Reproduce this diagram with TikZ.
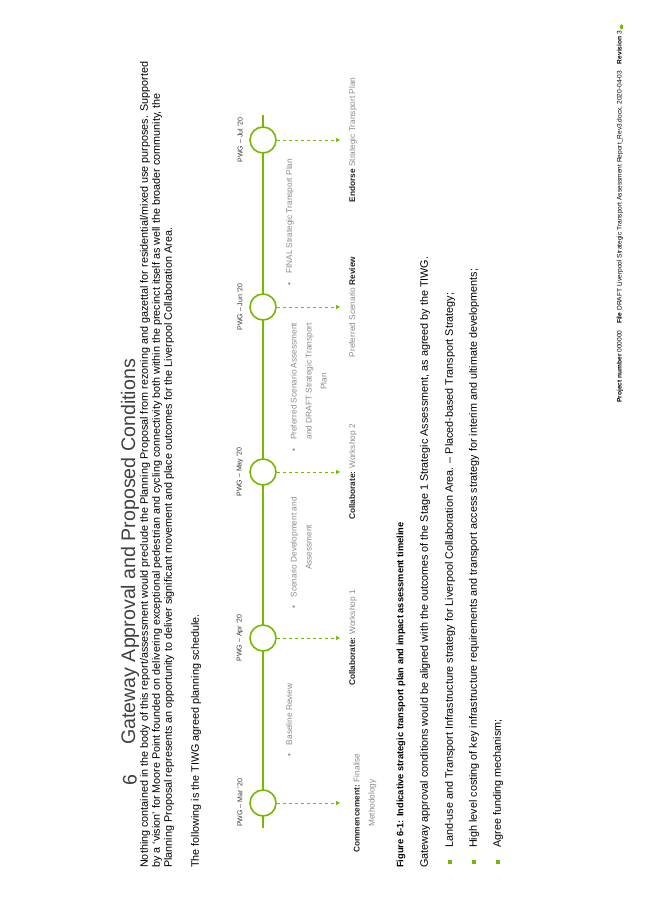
\documentclass[tikz,border=0pt]{standalone}
\usepackage{fontspec}
\setmainfont{Liberation Sans}
\usetikzlibrary{arrows.meta}
\definecolor{gr}{HTML}{76B900}
\definecolor{lg}{HTML}{8A8A8A}
\begin{document}
\begin{tikzpicture}[x=1pt,y=1pt,
  txt/.style={rotate=90,anchor=west,inner sep=0pt,font=\fontsize{10.8}{12}\selectfont},
  pwg/.style={rotate=90,anchor=center,inner sep=0pt,font=\fontsize{7}{8}\selectfont,text=black!80},
  bul/.style={rotate=90,anchor=north,inner sep=0pt,align=center,font=\fontsize{8.3}{15}\selectfont,text=lg},
  ms/.style={circle,draw=gr,line width=1.6pt,fill=white,minimum size=26pt,inner sep=0pt},
  dar/.style={gr,dashed,line width=0.8pt,-{Triangle[length=4pt,width=4pt]}}]
\useasboundingbox (0,0) rectangle (653,923);
\node[rotate=90,anchor=center,inner sep=0pt,font=\fontsize{19.6}{22}\selectfont,text=black!75] (num) at (130,143) {6};
\node[rotate=90,anchor=west,inner sep=0pt,font=\fontsize{19.6}{22}\selectfont,text=black!75] (title) at (130,178) {Gateway Approval and Proposed Conditions};
\node[txt] (p1) at (145,55) {Nothing contained in the body of this report/assessment would preclude the Planning Proposal from rezoning and gazettal for residential/mixed use purposes. Supported};
\node[txt] (p2) at (157,55) {by a ‘vision’ for Moore Point founded on delivering exceptional pedestrian and cycling connectivity both within the precinct itself as well the broader community, the};
\node[txt] (p3) at (169,55) {Planning Proposal represents an opportunity to deliver significant movement and place outcomes for the Liverpool Collaboration Area.};
\node[txt] (p4) at (196,55) {The following is the TIWG agreed planning schedule.};
% timeline
\coordinate (tb) at (263,95);
\coordinate (tt) at (263,808);
\draw[gr,line width=2.4pt] (tb) -- (tt);
\foreach \n/\y/\lab in {a/120/PWG – Mar ’20,b/285/PWG – Apr ’20,c/451/PWG – May ’20,d/616/PWG – Jun ’20,e/783/PWG – Jul ’20}{
  \node[ms] (m\n) at (263,\y) {};
  \node[pwg] (l\n) at (240,\y) {\lab};
  \coordinate (t\n) at (340,\y);
  \draw[dar] (m\n.east) -- (t\n);
}
\node[bul] (b1) at (286,203) {•\quad Baseline Review};
\node[bul] (b2) at (286,370) {•\quad\begin{tabular}[t]{@{}c@{}}Scenario Development and\\Assessment\end{tabular}};
\node[bul] (b3) at (286,536) {•\quad\begin{tabular}[t]{@{}c@{}}Preferred Scenario Assessment\\and DRAFT Strategic Transport\\Plan\end{tabular}};
\node[bul] (b4) at (286,701) {•\quad FINAL Strategic Transport Plan};
\node[bul] (c1) at (349,120) {\begin{tabular}{@{}c@{}}\textcolor{black!85}{\textbf{Commencement:}} Finalise\\Methodology\end{tabular}};
\node[bul] (c2) at (349,285) {\textcolor{black!85}{\textbf{Collaborate:}} Workshop 1};
\node[bul] (c3) at (349,451) {\textcolor{black!85}{\textbf{Collaborate:}} Workshop 2};
\node[bul] (c4) at (349,616) {Preferred Scenario \textcolor{black!85}{\textbf{Review}}};
\node[bul] (c5) at (349,783) {\textcolor{black!85}{\textbf{Endorse}} Strategic Transport Plan};
\node[txt,font=\bfseries\fontsize{9.3}{10}\selectfont] (cap) at (401,55) {Figure 6-1: Indicative strategic transport plan and impact assessment timeline};
\node[txt] (g1) at (425,55) {Gateway approval conditions would be aligned with the outcomes of the Stage 1 Strategic Assessment, as agreed by the TIWG.};
\foreach \n/\x/\t in {1/450/Land-use and Transport Infrastructure strategy for Liverpool Collaboration Area. – Placed-based Transport Strategy;,2/474/High level costing of key infrastructure requirements and transport access strategy for interim and ultimate developments;,3/498/Agree funding mechanism;}{
  \node[fill=gr,minimum size=4.5pt,inner sep=0pt] (sq\n) at (\x,61) {};
  \node[txt] (bt\n) at (\x,75) {\t};
}
\node[rotate=90,anchor=west,inner sep=0pt,font=\fontsize{6.6}{7}\selectfont] (foot) at (620,520) {\textbf{Project number} 000000\quad \textbf{File} DRAFT Liverpool Strategic Transport Assessment Report\_Rev3.docx, 2020-04-03\quad \textbf{Revision} 3};
\fill[gr] (foot.east) ++(1.5,4) ellipse (1.6pt and 2.6pt);
\end{tikzpicture}
\end{document}
